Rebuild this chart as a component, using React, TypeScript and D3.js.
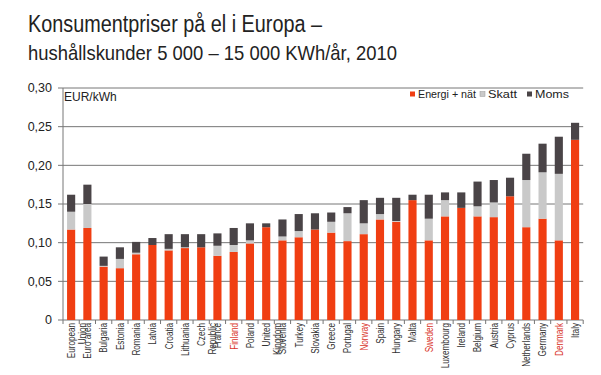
import React from "react";
import * as d3 from "d3";

const categories = ["European Union","Euro area","Bulgaria","Estonia","Romania","Latvia","Croatia","Lithuania","Czech Republic","France","Finland","Poland","United Kingdom","Slovenia","Turkey","Slovakia","Greece","Portugal","Norway","Spain","Hungary","Malta","Sweden","Luxembourg","Ireland","Belgium","Austria","Cyprus","Netherlands","Germany","Denmark","Italy"];
const energi = [0.117,0.119,0.069,0.067,0.085,0.097,0.090,0.093,0.094,0.083,0.088,0.099,0.120,0.103,0.107,0.117,0.113,0.102,0.111,0.130,0.127,0.155,0.103,0.134,0.145,0.134,0.133,0.160,0.120,0.131,0.103,0.233];
const skatt = [0.023,0.031,0.001,0.012,0.002,0,0.002,0.001,0,0.013,0.009,0.004,0,0.005,0.008,0,0.014,0.036,0.014,0.007,0.001,0,0.028,0.021,0,0.013,0.019,0,0.061,0.060,0.086,0];
const moms = [0.022,0.025,0.012,0.015,0.014,0.009,0.019,0.017,0.017,0.016,0.022,0.022,0.005,0.022,0.022,0.021,0.012,0.008,0.030,0.021,0.030,0.007,0.031,0.010,0.020,0.032,0.029,0.024,0.034,0.037,0.048,0.022];
const highlighted = ["Finland","Norway","Sweden","Denmark"];
const yTicks = [0, 0.05, 0.10, 0.15, 0.20, 0.25, 0.30];
const seriesKeys = ["energi","skatt","moms"];
const seriesLabels = ["Energi + nät","Skatt","Moms"];
const seriesColors = ["#f03e12","#c9c9c9","#4a4447"];
const title1 = "Konsumentpriser på el i Europa –";
const title2 = "hushållskunder 5 000 – 15 000 KWh/år, 2010";
const unit = "EUR/kWh";

const wrapMap: Record<string, string[]> = {
  "European Union": ["European", "Union"],
  "Czech Republic": ["Czech", "Republic"],
  "United Kingdom": ["United", "Kingdom"],
};

export default function App() {
  const W = 601, H = 375;
  const left = 63, right = 583.2, top = 88, bottom = 320;
  const x = d3.scaleBand<string>().domain(categories).range([left, right]).paddingInner(0.5).paddingOuter(0.25);
  const y = d3.scaleLinear().domain([0, 0.3]).range([bottom, top]);
  const rows = categories.map((c, i) => ({ cat: c, energi: energi[i], skatt: skatt[i], moms: moms[i] }));
  const stacked = d3.stack<any>().keys(seriesKeys)(rows);
  const fmt = (v: number) => (v === 0 ? "0" : d3.format(".2f")(v).replace(".", ","));
  const step = x.step();
  const font = "Liberation Sans, Arial, sans-serif";
  const axisColor = "#767676";

  const legendItems = [
    { x: 410, w: 58 },
    { x: 480, w: 29 },
    { x: 527, w: 34 },
  ];

  return (
    <svg width={W} height={H} style={{ position: "absolute", left: 0, top: 0, background: "#fff" }} fontFamily={font}>
      <rect width={W} height={H} fill="#fff" />
      <text x={28} y={32} fontSize={23} fill="#222" textLength={294} lengthAdjust="spacingAndGlyphs">{title1}</text>
      <text x={28} y={60} fontSize={21} fill="#222" textLength={369} lengthAdjust="spacingAndGlyphs">{title2}</text>

      {yTicks.map((t) => (
        <g key={t}>
          <line x1={left - 5} x2={right} y1={y(t)} y2={y(t)} stroke={axisColor} strokeWidth={1} />
          <text x={52} y={y(t)} dy="0.35em" textAnchor="end" fontSize={12.5} fill="#222">{fmt(t)}</text>
        </g>
      ))}
      <line x1={left} x2={left} y1={top} y2={bottom} stroke={axisColor} strokeWidth={1} />
      <text x={left + 1} y={101} fontSize={12} fill="#222">{unit}</text>

      {stacked.map((s, si) => (
        <g key={s.key} fill={seriesColors[si]}>
          {s.map((d: any, i: number) => (
            <rect key={i} x={x(categories[i])} width={x.bandwidth()} y={y(d[1])} height={Math.max(0, y(d[0]) - y(d[1]))} />
          ))}
        </g>
      ))}

      {categories.map((c, i) => (
        <line key={"t" + i} x1={(x(c) as number) - step / 4} x2={(x(c) as number) - step / 4} y1={bottom} y2={bottom + 4} stroke={axisColor} />
      ))}
      <line x1={right} x2={right} y1={bottom} y2={bottom + 4} stroke={axisColor} />

      {categories.map((c) => {
        const cx = (x(c) as number) + x.bandwidth() / 2;
        const lines = wrapMap[c] || [c];
        const col = highlighted.includes(c) ? "#d9342a" : "#333";
        return (
          <text key={"l" + c} transform={`translate(${cx},${bottom + 3}) rotate(-90) scale(0.74,1)`} textAnchor="end" fontSize={11} fill={col}>
            {lines.map((ln, li) => (
              <tspan key={li} x={0} dy={li === 0 ? "0.35em" : 11}>{ln}</tspan>
            ))}
          </text>
        );
      })}

      {seriesLabels.map((lab, i) => (
        <g key={lab}>
          <rect x={legendItems[i].x} y={91.5} width={5} height={5} fill={seriesColors[i]} stroke={i === 1 ? "#999" : "none"} strokeWidth={0.5} />
          <text x={legendItems[i].x + 8} y={98} fontSize={11} fill="#222" textLength={legendItems[i].w} lengthAdjust="spacingAndGlyphs">{lab}</text>
        </g>
      ))}
    </svg>
  );
}
